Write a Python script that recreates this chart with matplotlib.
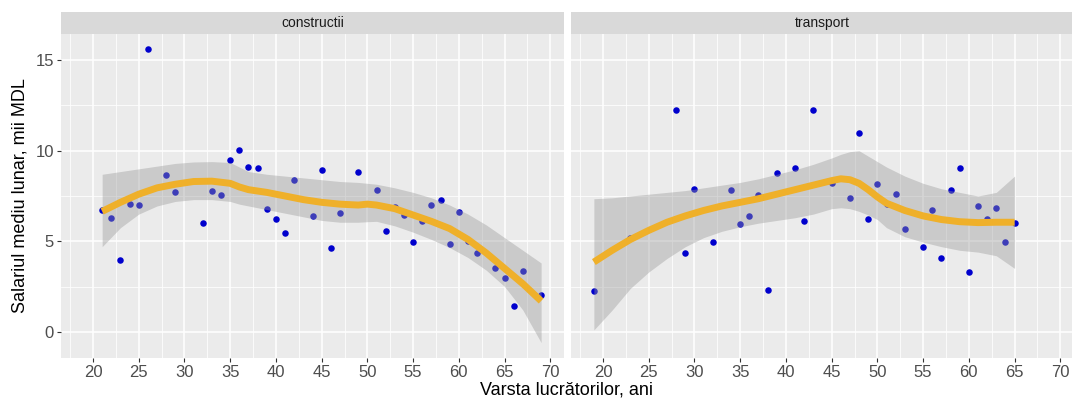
"""
Salariul mediu lunar pe varste, constructii vs transport (puncte + loess).
"""
import matplotlib

matplotlib.use("Agg")
import matplotlib.pyplot as plt
from matplotlib.ticker import MultipleLocator

plt.rcParams["font.family"] = ["Liberation Sans", "DejaVu Sans"]

# --- date: puncte observate ---
constr_age = [21, 22, 23, 24, 25, 26, 28, 29, 32, 33, 34, 35, 36, 37, 38, 39, 40,
              41, 42, 44, 45, 46, 47, 49, 51, 52, 53, 54, 55, 56, 57, 58, 59, 60,
              61, 62, 64, 65, 66, 67, 69]
constr_sal = [6.72, 6.26, 3.98, 7.05, 7.02, 15.62, 8.67, 7.72, 6.02, 7.75, 7.57,
              9.50, 10.06, 9.08, 9.06, 6.78, 6.21, 5.47, 8.40, 6.41, 8.95, 4.62,
              6.56, 8.80, 7.84, 5.56, 6.87, 6.45, 4.95, 6.10, 7.02, 7.30, 4.86,
              6.63, 5.03, 4.35, 3.52, 2.95, 1.44, 3.33, 2.03]

transp_age = [19, 23, 28, 29, 30, 32, 34, 35, 36, 37, 38, 39, 41, 42, 43, 45, 47,
              48, 49, 50, 51, 52, 53, 55, 56, 57, 58, 59, 60, 61, 62, 63, 64, 65]
transp_sal = [2.26, 5.16, 12.25, 4.36, 7.90, 4.97, 7.81, 5.95, 6.41, 7.57, 2.30,
              8.75, 9.02, 6.13, 12.25, 8.21, 7.38, 11.00, 6.22, 8.18, 7.07, 7.62,
              5.65, 4.68, 6.74, 4.07, 7.81, 9.02, 3.31, 6.92, 6.22, 6.83, 4.97, 6.00]

# --- date: curba loess si banda de incredere ---
constr_fit_age = [21, 23, 25, 27, 29, 31, 33, 35, 36, 37, 39, 41, 43, 45, 47, 49,
                  50, 51, 53, 55, 57, 59, 61, 63, 65, 67, 69]
constr_fit = [6.65, 7.15, 7.60, 7.95, 8.15, 8.30, 8.32, 8.20, 8.00, 7.85, 7.70,
              7.50, 7.30, 7.15, 7.05, 7.00, 7.05, 7.00, 6.80, 6.45, 6.10, 5.70,
              5.10, 4.35, 3.50, 2.65, 1.70]
constr_lo = [4.70, 5.75, 6.50, 6.95, 7.20, 7.30, 7.30, 7.20, 7.05, 6.95, 6.75,
             6.55, 6.35, 6.15, 6.05, 6.05, 6.08, 6.10, 5.85, 5.50, 5.10, 4.65,
             4.10, 3.40, 2.50, 1.20, -0.60]
constr_hi = [8.70, 8.85, 9.00, 9.15, 9.30, 9.38, 9.40, 9.35, 9.10, 8.85, 8.70,
             8.60, 8.50, 8.40, 8.30, 8.25, 8.20, 8.15, 7.95, 7.70, 7.40, 7.00,
             6.50, 5.90, 5.20, 4.50, 3.80]

transp_fit_age = [19, 21, 23, 25, 27, 29, 31, 33, 35, 37, 39, 41, 43, 45, 46, 47,
                  48, 49, 50, 51, 53, 55, 57, 59, 61, 63, 65]
transp_fit = [3.85, 4.50, 5.10, 5.60, 6.05, 6.40, 6.70, 6.95, 7.15, 7.35, 7.60,
              7.85, 8.10, 8.35, 8.45, 8.40, 8.20, 7.85, 7.45, 7.10, 6.70, 6.40,
              6.20, 6.08, 6.03, 6.05, 6.05]
transp_lo = [0.10, 1.20, 2.40, 3.30, 4.05, 4.70, 5.20, 5.55, 5.80, 6.00, 6.15,
             6.30, 6.50, 6.80, 6.85, 6.80, 6.65, 6.45, 6.20, 5.75, 5.25, 4.95,
             4.70, 4.50, 4.40, 4.20, 3.50]
transp_hi = [7.35, 7.40, 7.50, 7.60, 7.70, 7.80, 7.95, 8.10, 8.25, 8.45, 8.70,
             8.95, 9.25, 9.60, 9.80, 9.95, 10.00, 9.70, 9.40, 9.10, 8.60, 8.20,
             7.90, 7.70, 7.50, 7.70, 8.60]

panels = [
    ("constructii", constr_age, constr_sal, constr_fit_age, constr_fit, constr_lo, constr_hi),
    ("transport", transp_age, transp_sal, transp_fit_age, transp_fit, transp_lo, transp_hi),
]

W, H = 1072, 399
fig = plt.figure(figsize=(W / 100, H / 100), dpi=100)

ax_w = 503 / W
ax_b = 1 - 358 / H
ax_h = (358 - 34) / H
strip_h = 22 / H
lefts = [61 / W, 571 / W]

for i, (name, xa, ya, fx, fy, lo, hi) in enumerate(panels):
    ax = fig.add_axes([lefts[i], ax_b, ax_w, ax_h])
    ax.set_facecolor("#EBEBEB")
    for s in ax.spines.values():
        s.set_visible(False)
    ax.set_xlim(16.5, 71.5)
    ax.set_ylim(-1.45, 16.45)
    ax.xaxis.set_major_locator(MultipleLocator(5))
    ax.xaxis.set_minor_locator(MultipleLocator(2.5))
    ax.yaxis.set_major_locator(MultipleLocator(5))
    ax.yaxis.set_minor_locator(MultipleLocator(2.5))
    ax.grid(which="major", color="white", lw=1.1)
    ax.grid(which="minor", color="white", lw=0.55)
    ax.set_axisbelow(True)
    ax.tick_params(which="major", length=3, width=0.8, color="#333333",
                   labelsize=12, labelcolor="#4D4D4D", pad=2)
    ax.tick_params(which="minor", length=0)
    if i == 1:
        ax.tick_params(axis="y", labelleft=False, length=0)

    ax.scatter(xa, ya, s=22, color="#0000CD", zorder=3, linewidths=0)
    ax.fill_between(fx, lo, hi, color="#999999", alpha=0.4, lw=0, zorder=4)
    ax.plot(fx, fy, color="#EFB02A", lw=5, solid_capstyle="butt", zorder=5)

    sax = fig.add_axes([lefts[i], ax_b + ax_h, ax_w, strip_h])
    sax.set_facecolor("#D9D9D9")
    sax.set_xticks([])
    sax.set_yticks([])
    for s in sax.spines.values():
        s.set_visible(False)
    sax.text(0.5, 0.5, name, ha="center", va="center", fontsize=10,
             color="#1A1A1A", transform=sax.transAxes)

fig.text(567 / W, 1 - 390 / H, "Varsta lucrătorilor, ani", ha="center", va="center",
         fontsize=13, color="black")
fig.text(20 / W, 1 - 196 / H, "Salariul mediu lunar, mii MDL", ha="center",
         va="center", rotation=90, fontsize=13, color="black")

fig.savefig("out.png", dpi=100)
